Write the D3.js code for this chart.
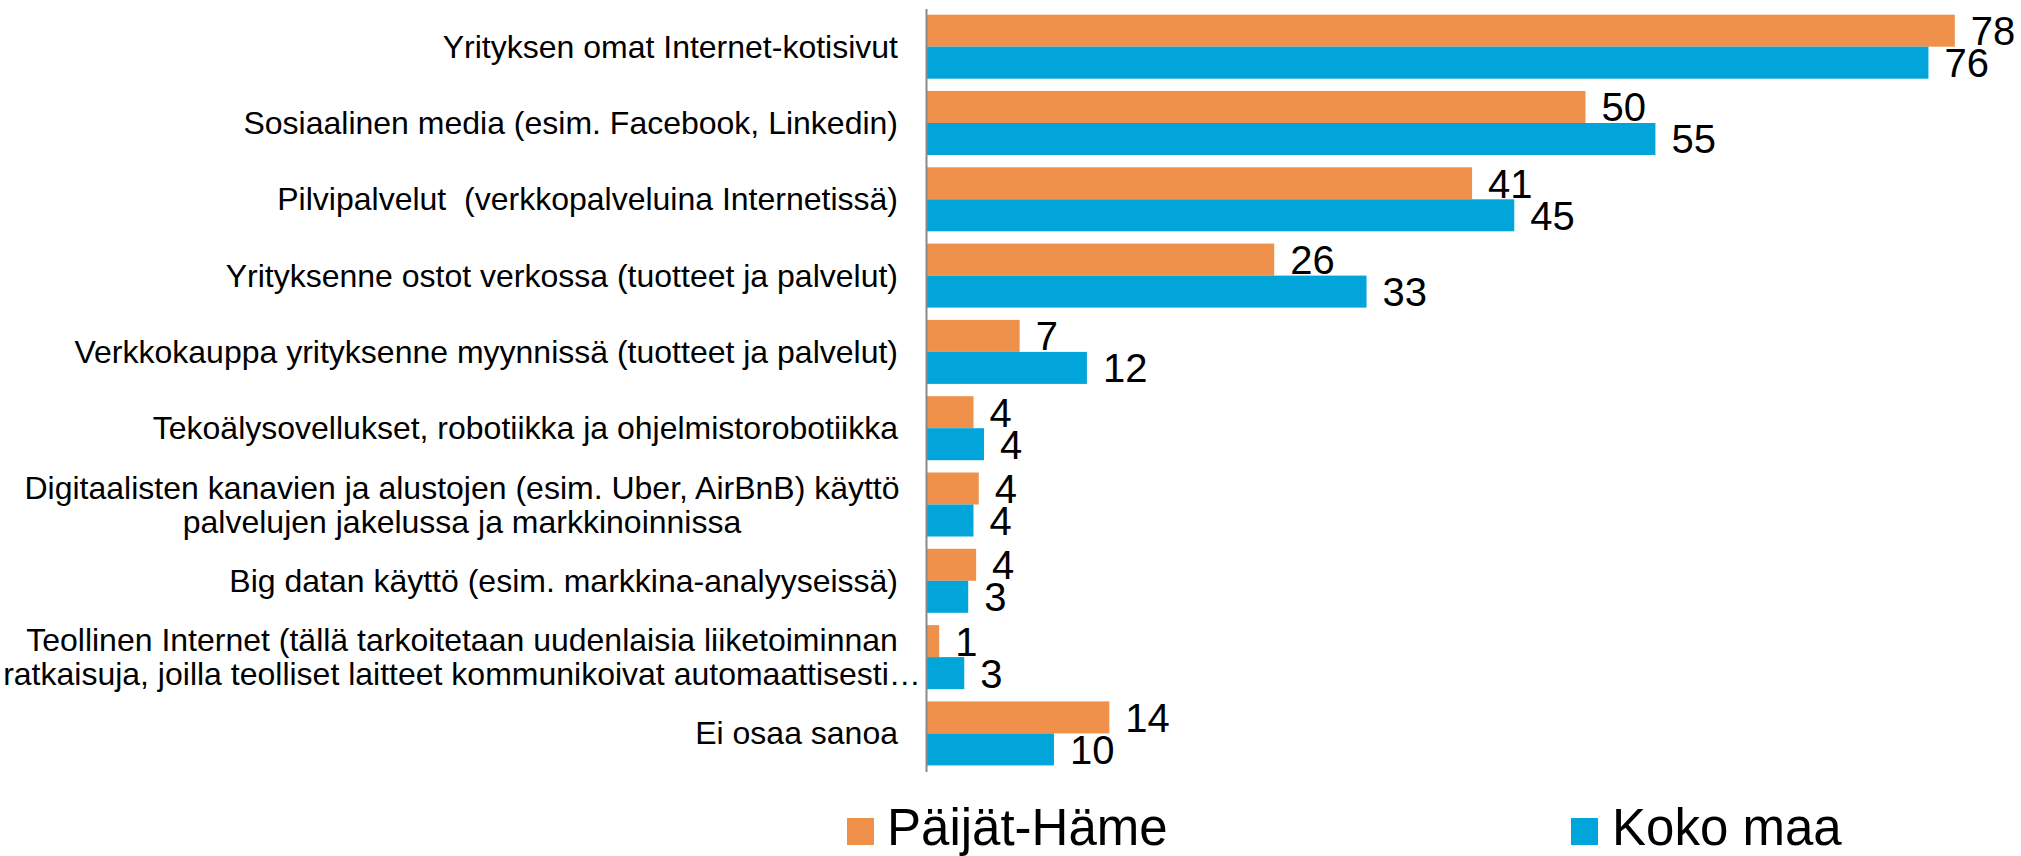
<!DOCTYPE html>
<html>
<head>
<meta charset="utf-8">
<script src="https://cdn.jsdelivr.net/npm/d3@7"></script>
<style>
  html, body { margin: 0; padding: 0; background: #fff; }
  svg { display: block; font-family: "Liberation Sans", Arial, sans-serif; }
</style>
</head>
<body>
<div id="chart"></div>
<script>
// categories (lines of each label)
const categories = [
    ["Yrityksen omat Internet-kotisivut"],
    ["Sosiaalinen media (esim. Facebook, Linkedin)"],
    ["Pilvipalvelut  (verkkopalveluina Internetissä)"],
    ["Yrityksenne ostot verkossa (tuotteet ja palvelut)"],
    ["Verkkokauppa yrityksenne myynnissä (tuotteet ja palvelut)"],
    ["Tekoälysovellukset, robotiikka ja ohjelmistorobotiikka"],
    ["Digitaalisten kanavien ja alustojen (esim. Uber, AirBnB) käyttö", "palvelujen jakelussa ja markkinoinnissa"],
    ["Big datan käyttö (esim. markkina-analyyseissä)"],
    ["Teollinen Internet (tällä tarkoitetaan uudenlaisia liiketoiminnan", "ratkaisuja, joilla teolliset laitteet kommunikoivat automaattisesti…"],
    ["Ei osaa sanoa"]
];
const seriesNames = ["Päijät-Häme", "Koko maa"];
const paijatHame = [78.0, 50.0, 41.4, 26.4, 7.1, 3.6, 4.0, 3.8, 1.0, 13.9];
const kokoMaa = [76.0, 55.3, 44.6, 33.4, 12.2, 4.4, 3.6, 3.2, 2.9, 9.7];
const colors = ["#F0914B", "#02A5DA"];

const W = 2021, H = 856;
const axisX = 926;

const svg = d3.select("#chart").append("svg")
    .attr("width", W).attr("height", H);

const keys = categories.map((d, i) => i);
const data = keys.map(i => ({ key: i, values: [paijatHame[i], kokoMaa[i]] }));

// scales
const x = d3.scaleLinear().domain([0, 100]).range([axisX, axisX + 1319]);
const y = d3.scaleBand().domain(keys).range([8.5, 771.6])
    .paddingInner(0.161).paddingOuter(0.081);
const ySub = d3.scaleBand().domain([0, 1]).range([0, y.bandwidth()]);

// bars
const groups = svg.selectAll("g.cat").data(data).enter().append("g")
    .attr("class", "cat")
    .attr("transform", d => `translate(0,${y(d.key)})`);

groups.selectAll("rect").data(d => d.values).enter().append("rect")
    .attr("x", x(0))
    .attr("y", (v, j) => ySub(j))
    .attr("width", v => x(v) - x(0))
    .attr("height", ySub.bandwidth())
    .attr("fill", (v, j) => colors[j]);

// value labels
const fmt = d3.format(".0f");
groups.selectAll("text.val").data(d => d.values).enter().append("text")
    .attr("class", "val")
    .attr("x", v => x(v) + 16)
    .attr("y", (v, j) => ySub(j) + ySub.bandwidth() / 2 + 14.5)
    .style("font-size", "40px")
    .attr("fill", "#000")
    .text(v => fmt(v));

// axis line
svg.append("g")
    .attr("transform", `translate(${axisX},0)`)
    .call(d3.axisLeft(y).tickSize(0).tickSizeOuter(0).tickFormat(""))
    .call(g => g.select(".domain").attr("stroke", "#898989").attr("stroke-width", 2));

// category labels
const lineH = 34;
categories.forEach((lines, i) => {
    const cy = y(i) + y.bandwidth() / 2;
    const multi = lines.length > 1;
    const t = svg.append("text")
        .attr("text-anchor", multi ? "middle" : "end")
        .style("font-size", "32px")
        .style("white-space", "pre")
        .attr("fill", "#000");
    lines.forEach((ln, k) => {
        t.append("tspan")
            .attr("x", multi ? 462 : 898)
            .attr("y", cy + 11 - (lines.length - 1) * lineH / 2 + k * lineH)
            .text(ln);
    });
});

// legend
const legendX = [847, 1571];
const legend = svg.selectAll("g.legend").data(seriesNames).enter().append("g")
    .attr("class", "legend")
    .attr("transform", (d, i) => `translate(${legendX[i]},818)`);
legend.append("rect")
    .attr("width", 27).attr("height", 27)
    .attr("fill", (d, i) => colors[i]);
legend.append("text")
    .attr("x", (d, i) => i === 0 ? 40 : 41)
    .attr("y", 27)
    .style("font-size", "51px")
    .attr("fill", "#000")
    .text(d => d);
</script>
</body>
</html>
